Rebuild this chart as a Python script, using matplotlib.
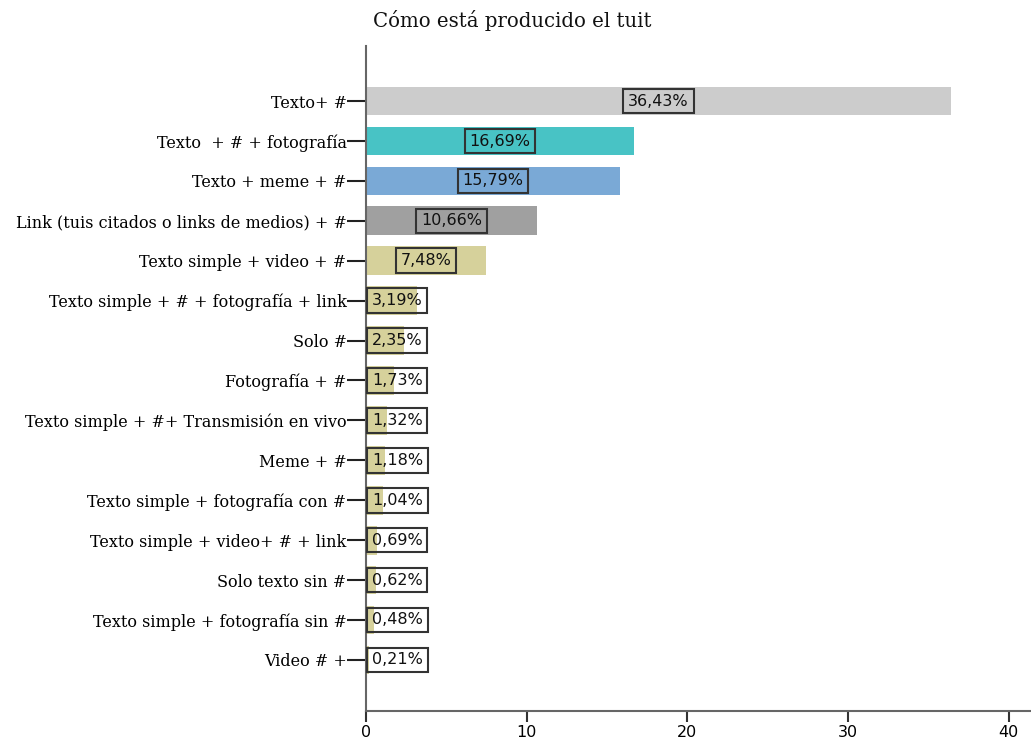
import matplotlib
matplotlib.use("Agg")
import matplotlib.pyplot as plt

categories = [
    "Texto+ #",
    "Texto  + # + fotografía",
    "Texto + meme + #",
    "Link (tuis citados o links de medios) + #",
    "Texto simple + video + #",
    "Texto simple + # + fotografía + link",
    "Solo #",
    "Fotografía + #",
    "Texto simple + #+ Transmisión en vivo",
    "Meme + #",
    "Texto simple + fotografía con #",
    "Texto simple + video+ # + link",
    "Solo texto sin #",
    "Texto simple + fotografía sin #",
    "Video # +",
]
values = [36.43, 16.69, 15.79, 10.66, 7.48, 3.19, 2.35, 1.73, 1.32, 1.18,
          1.04, 0.69, 0.62, 0.48, 0.21]
value_labels = ["36,43%", "16,69%", "15,79%", "10,66%", "7,48%", "3,19%", "2,35%",
                "1,73%", "1,32%", "1,18%", "1,04%", "0,69%", "0,62%", "0,48%", "0,21%"]
xticks = [0, 10, 20, 30, 40]
title = "Cómo está producido el tuit"

khaki = "#d6d19b"
colors = ["#cccccc", "#48c3c5", "#7aa9d6", "#a0a0a0"] + [khaki] * 11

fig = plt.figure(figsize=(10.31, 7.48), dpi=100)
ax = fig.add_axes([366 / 1031, 1 - 711 / 748, 1 - 366 / 1031, (711 - 46) / 748])

ypos = list(range(len(categories)))
ax.barh(ypos, values, height=0.72, color=colors, edgecolor="none", zorder=2)

half_box = 1.95
for y, v, lab in zip(ypos, values, value_labels):
    x = max(v / 2, half_box)
    ax.text(x, y, lab, ha="center", va="center", fontsize=11.5,
            family="DejaVu Sans", color="#111111", zorder=3,
            bbox=dict(boxstyle="square,pad=0.3", fc="none", ec="#333333", lw=1.5))

ax.set_ylim(15.28, -1.38)
ax.set_xlim(0, 41.4)
ax.set_yticks(ypos)
ax.set_yticklabels(categories, family="DejaVu Serif", fontsize=11.5)
ax.set_xticks(xticks)
ax.set_xticklabels([str(t) for t in xticks], family="DejaVu Sans", fontsize=11.5)

for s in ["top", "right"]:
    ax.spines[s].set_visible(False)
for s in ["left", "bottom"]:
    ax.spines[s].set_color("#666666")
    ax.spines[s].set_linewidth(1.5)
ax.tick_params(axis="y", length=14, width=1.5, color="#222222", pad=0)
ax.tick_params(axis="x", length=8, width=1.5, color="#333333", pad=2)

fig.text(373 / 1031, 1 - 27 / 748, title, family="DejaVu Serif", fontsize=14.2,
         ha="left", va="baseline", color="#111111")

fig.savefig("out.png", dpi=100)
